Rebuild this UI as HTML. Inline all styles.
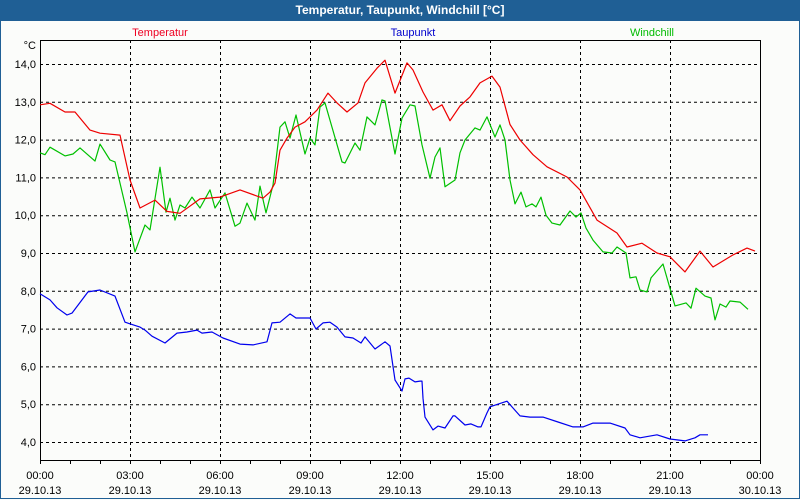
<!DOCTYPE html>
<html><head><meta charset="utf-8"><style>
body{margin:0;background:#fff}
#wrap{position:relative;width:800px;height:500px;overflow:hidden;background:#fbfcfa;font-family:"Liberation Sans",sans-serif}
#title{position:absolute;left:0;top:0;width:800px;height:21px;background:#1f5f95;color:#fff;font-weight:bold;font-size:12px;text-align:center;line-height:21px}
#frame{position:absolute;left:0;top:21px;width:798px;height:477px;border:1px solid #1f5f95;border-top:none}
svg{position:absolute;left:0;top:0}
svg text{font-family:"Liberation Sans",sans-serif;font-size:11px}
</style></head><body>
<div id="wrap">
<div id="title">Temperatur, Taupunkt, Windchill [°C]</div>
<div id="frame"></div>
<svg id="chart" width="800" height="500"></svg>
</div>
<script>
const yTicks=[4,5,6,7,8,9,10,11,12,13,14];
const yTickLabels=["4,0","5,0","6,0","7,0","8,0","9,0","10,0","11,0","12,0","13,0","14,0"];
const xTickMinutes=[0,180,360,540,720,900,1080,1260,1440];
const xTickTimes=["00:00","03:00","06:00","09:00","12:00","15:00","18:00","21:00","00:00"];
const xTickDates=["29.10.13","29.10.13","29.10.13","29.10.13","29.10.13","29.10.13","29.10.13","29.10.13","30.10.13"];
const tempT=[0,20,50,70,100,120,160,180,200,230,254,280,320,360,400,446,460,470,480,494,510,530,554,576,594,614,636,650,674,690,710,734,746,766,786,804,820,840,860,880,904,920,940,960,986,1014,1054,1080,1114,1154,1174,1204,1234,1260,1290,1320,1346,1386,1414,1430];
const tempV=[12.92,12.96,12.73,12.73,12.25,12.17,12.12,10.93,10.19,10.4,10.1,10.05,10.43,10.48,10.67,10.45,10.61,10.85,11.72,12.04,12.33,12.47,12.78,13.23,12.97,12.73,12.97,13.5,13.89,14.1,13.23,14.03,13.84,13.26,12.78,12.92,12.5,12.89,13.13,13.5,13.68,13.39,12.4,11.99,11.6,11.28,11.01,10.67,9.87,9.53,9.16,9.26,9.0,8.9,8.5,9.05,8.63,8.95,9.13,9.05];
const windT=[0,10,20,50,66,80,110,120,140,150,174,190,210,230,240,254,264,280,290,300,320,340,350,370,390,400,414,420,430,440,450,460,470,480,484,490,500,510,530,540,550,560,570,574,590,600,614,630,640,654,660,670,684,690,700,710,724,730,740,750,760,770,780,784,800,810,820,830,840,850,860,870,876,884,900,914,920,930,940,950,962,970,982,992,1000,1024,1040,1060,1072,1082,1092,1106,1126,1144,1154,1172,1180,1192,1200,1214,1222,1246,1270,1292,1302,1312,1330,1342,1350,1360,1372,1380,1400,1416,1430];
const windV=[11.65,11.6,11.8,11.57,11.62,11.78,11.43,11.88,11.46,11.41,10.06,9.03,9.74,9.61,11.27,10.08,10.45,9.87,10.27,10.19,10.48,10.19,10.67,10.19,10.59,9.71,9.79,10.32,9.87,10.77,10.06,10.8,11.01,12.33,12.2,12.47,12.04,12.65,11.62,12.04,11.86,12.86,12.97,12.97,11.41,11.38,11.91,11.72,12.6,12.39,13.05,13.02,11.62,12.57,12.92,12.89,11.86,10.98,11.54,11.78,10.75,10.93,11.65,11.99,11.86,12.31,12.25,12.6,12.39,11.99,10.93,10.3,10.61,10.22,10.3,10.22,10.48,10.0,9.79,9.74,10.11,9.95,10.06,9.66,9.34,9.03,9.0,9.16,9.0,8.34,8.37,8.02,7.97,8.34,8.71,7.6,7.68,7.54,8.07,7.86,7.81,7.23,7.65,7.57,7.73,7.7,7.51].slice(0,0);
</script>
<script>
const windTimes=[0,10,20,50,66,80,110,120,140,150,174,190,210,220,240,252,260,270,280,290,304,320,340,350,370,390,400,414,430,440,452,466,480,490,500,512,530,540,550,560,570,604,610,630,640,654,670,684,690,710,724,740,750,764,780,790,800,810,830,840,850,870,880,894,910,920,930,940,950,962,972,984,992,1002,1012,1024,1040,1060,1072,1082,1092,1106,1126,1144,1154,1172,1180,1192,1200,1214,1222,1246,1270,1292,1302,1312,1330,1342,1350,1360,1372,1380,1400,1416,1430];
const windVals=[11.65,11.6,11.8,11.57,11.62,11.78,11.43,11.88,11.46,11.41,10.06,9.03,9.74,9.61,11.27,10.08,10.45,9.87,10.27,10.19,10.48,10.19,10.67,10.19,10.59,9.71,9.79,10.32,9.87,10.77,10.06,10.8,12.33,12.47,12.04,12.65,11.62,12.04,11.86,12.86,12.97,11.41,11.38,11.91,11.72,12.6,12.39,13.05,13.02,11.62,12.57,12.92,12.89,11.86,10.98,11.54,11.78,10.75,10.93,11.65,11.99,12.31,12.25,12.6,12.07,12.39,11.99,10.93,10.3,10.61,10.22,10.3,10.22,10.48,10.0,9.79,9.74,10.11,9.95,10.06,9.66,9.34,9.03,9.0,9.16,9.0,8.34,8.37,8.02,7.97,8.34,8.71,7.6,7.68,7.54,8.07,7.86,7.81,7.23,7.65,7.57,7.73,7.7,7.51].slice(0);
const dewT=[0,20,34,54,64,96,120,150,170,200,210,224,250,274,294,314,324,344,366,400,426,454,464,480,500,512,540,552,566,580,594,610,626,642,650,670,690,700,710,724,730,738,750,760,764,766,770,786,796,810,826,830,850,862,876,882,894,900,918,934,946,960,980,1006,1036,1066,1086,1106,1140,1170,1180,1200,1234,1260,1290,1310,1320,1336,1356,1370,1394,1426];
const dewV=[7.92,7.76,7.55,7.36,7.41,7.97,8.02,7.86,7.17,7.04,6.96,6.8,6.62,6.88,6.91,6.96,6.88,6.91,6.75,6.59,6.57,6.65,7.15,7.17,7.39,7.28,7.28,6.99,7.15,7.17,7.04,6.78,6.75,6.62,6.78,6.46,6.65,6.54,5.64,5.35,5.67,5.69,5.59,5.61,5.61,5.16,4.66,4.32,4.42,4.37,4.69,4.69,4.45,4.48,4.4,4.4,4.77,4.93,5.01,5.08,4.9,4.69,4.66,4.66,4.53,4.4,4.4,4.5,4.5,4.37,4.19,4.11,4.19,4.08,4.03,4.11,4.19,4.19].slice(0);
</script>
<script>
const NS="http://www.w3.org/2000/svg";
const svg=document.getElementById('chart');
const L=40,R=760,T=40,B=460;
function xS(m){return L+m/2;}
function yS(v){return 64+(14-v)*37.8;}
function mk(tag,attrs){const e=document.createElementNS(NS,tag);for(const k in attrs)e.setAttribute(k,attrs[k]);svg.appendChild(e);return e;}
// horizontal grid + y labels
yTicks.forEach((v,i)=>{
  const g=mk('line',{x1:L,x2:R,y1:yS(v)+0.5,y2:yS(v)+0.5,stroke:'#000','stroke-dasharray':'3,3'});
  
  
  const t=mk('text',{x:36,y:yS(v)+4,'text-anchor':'end',fill:'#000'});
  t.textContent=yTickLabels[i];
  
  
});
// vertical grid + x labels
xTickMinutes.forEach((m,i)=>{
  if(i>0&&i<xTickMinutes.length-1){
    const g=mk('line',{x1:xS(m)+0.5,x2:xS(m)+0.5,y1:T,y2:B,stroke:'#000','stroke-dasharray':'3,3'});
    
    
  }
  const t1=mk('text',{x:xS(m),y:479,'text-anchor':'middle',fill:'#000'});
  t1.textContent=xTickTimes[i];
  
  
  const t2=mk('text',{x:xS(m),y:494,'text-anchor':'middle',fill:'#000'});
  t2.textContent=xTickDates[i];
  
  
});
for(let h=0;h<=24;h++){
  const tk=mk('line',{x1:xS(h*60)+0.5,x2:xS(h*60)+0.5,y1:B,y2:B+4,stroke:'#000'});
  
  
}
// plot border
const box=mk('path',{d:`M${L+0.5},${B+0.5} V${T+0.5} H${R+0.5} V${B+0.5} H${L+0.5}`,fill:'none',stroke:'#000','stroke-width':1});


const unit=mk('text',{x:36,y:49,'text-anchor':'end',fill:'#000'});
unit.textContent='°C';


function series(ts,vs,color,name){
  const n=Math.min(ts.length,vs.length);
  let d='';
  for(let i=0;i<n;i++)d+=(i?'L':'M')+xS(ts[i]).toFixed(1)+','+yS(vs[i]).toFixed(1);
  const p=mk('path',{d:d,fill:'none',stroke:color,'stroke-width':1.2,'stroke-linejoin':'round'});
  
  
}
series(dewT,dewV,'#0000ee','taupunkt-line');
series(windTimes,windVals,'#00c000','windchill-line');
series(tempT,tempV,'#ee0000','temperatur-line');
const legends=[['Temperatur','#ee0022',160],['Taupunkt','#0000cc',413],['Windchill','#00bb00',652]];
legends.forEach(l=>{
  const t=mk('text',{x:l[2],y:36,'text-anchor':'middle',fill:l[1]});
  t.textContent=l[0];
  
  
});
</script>
</body></html>
